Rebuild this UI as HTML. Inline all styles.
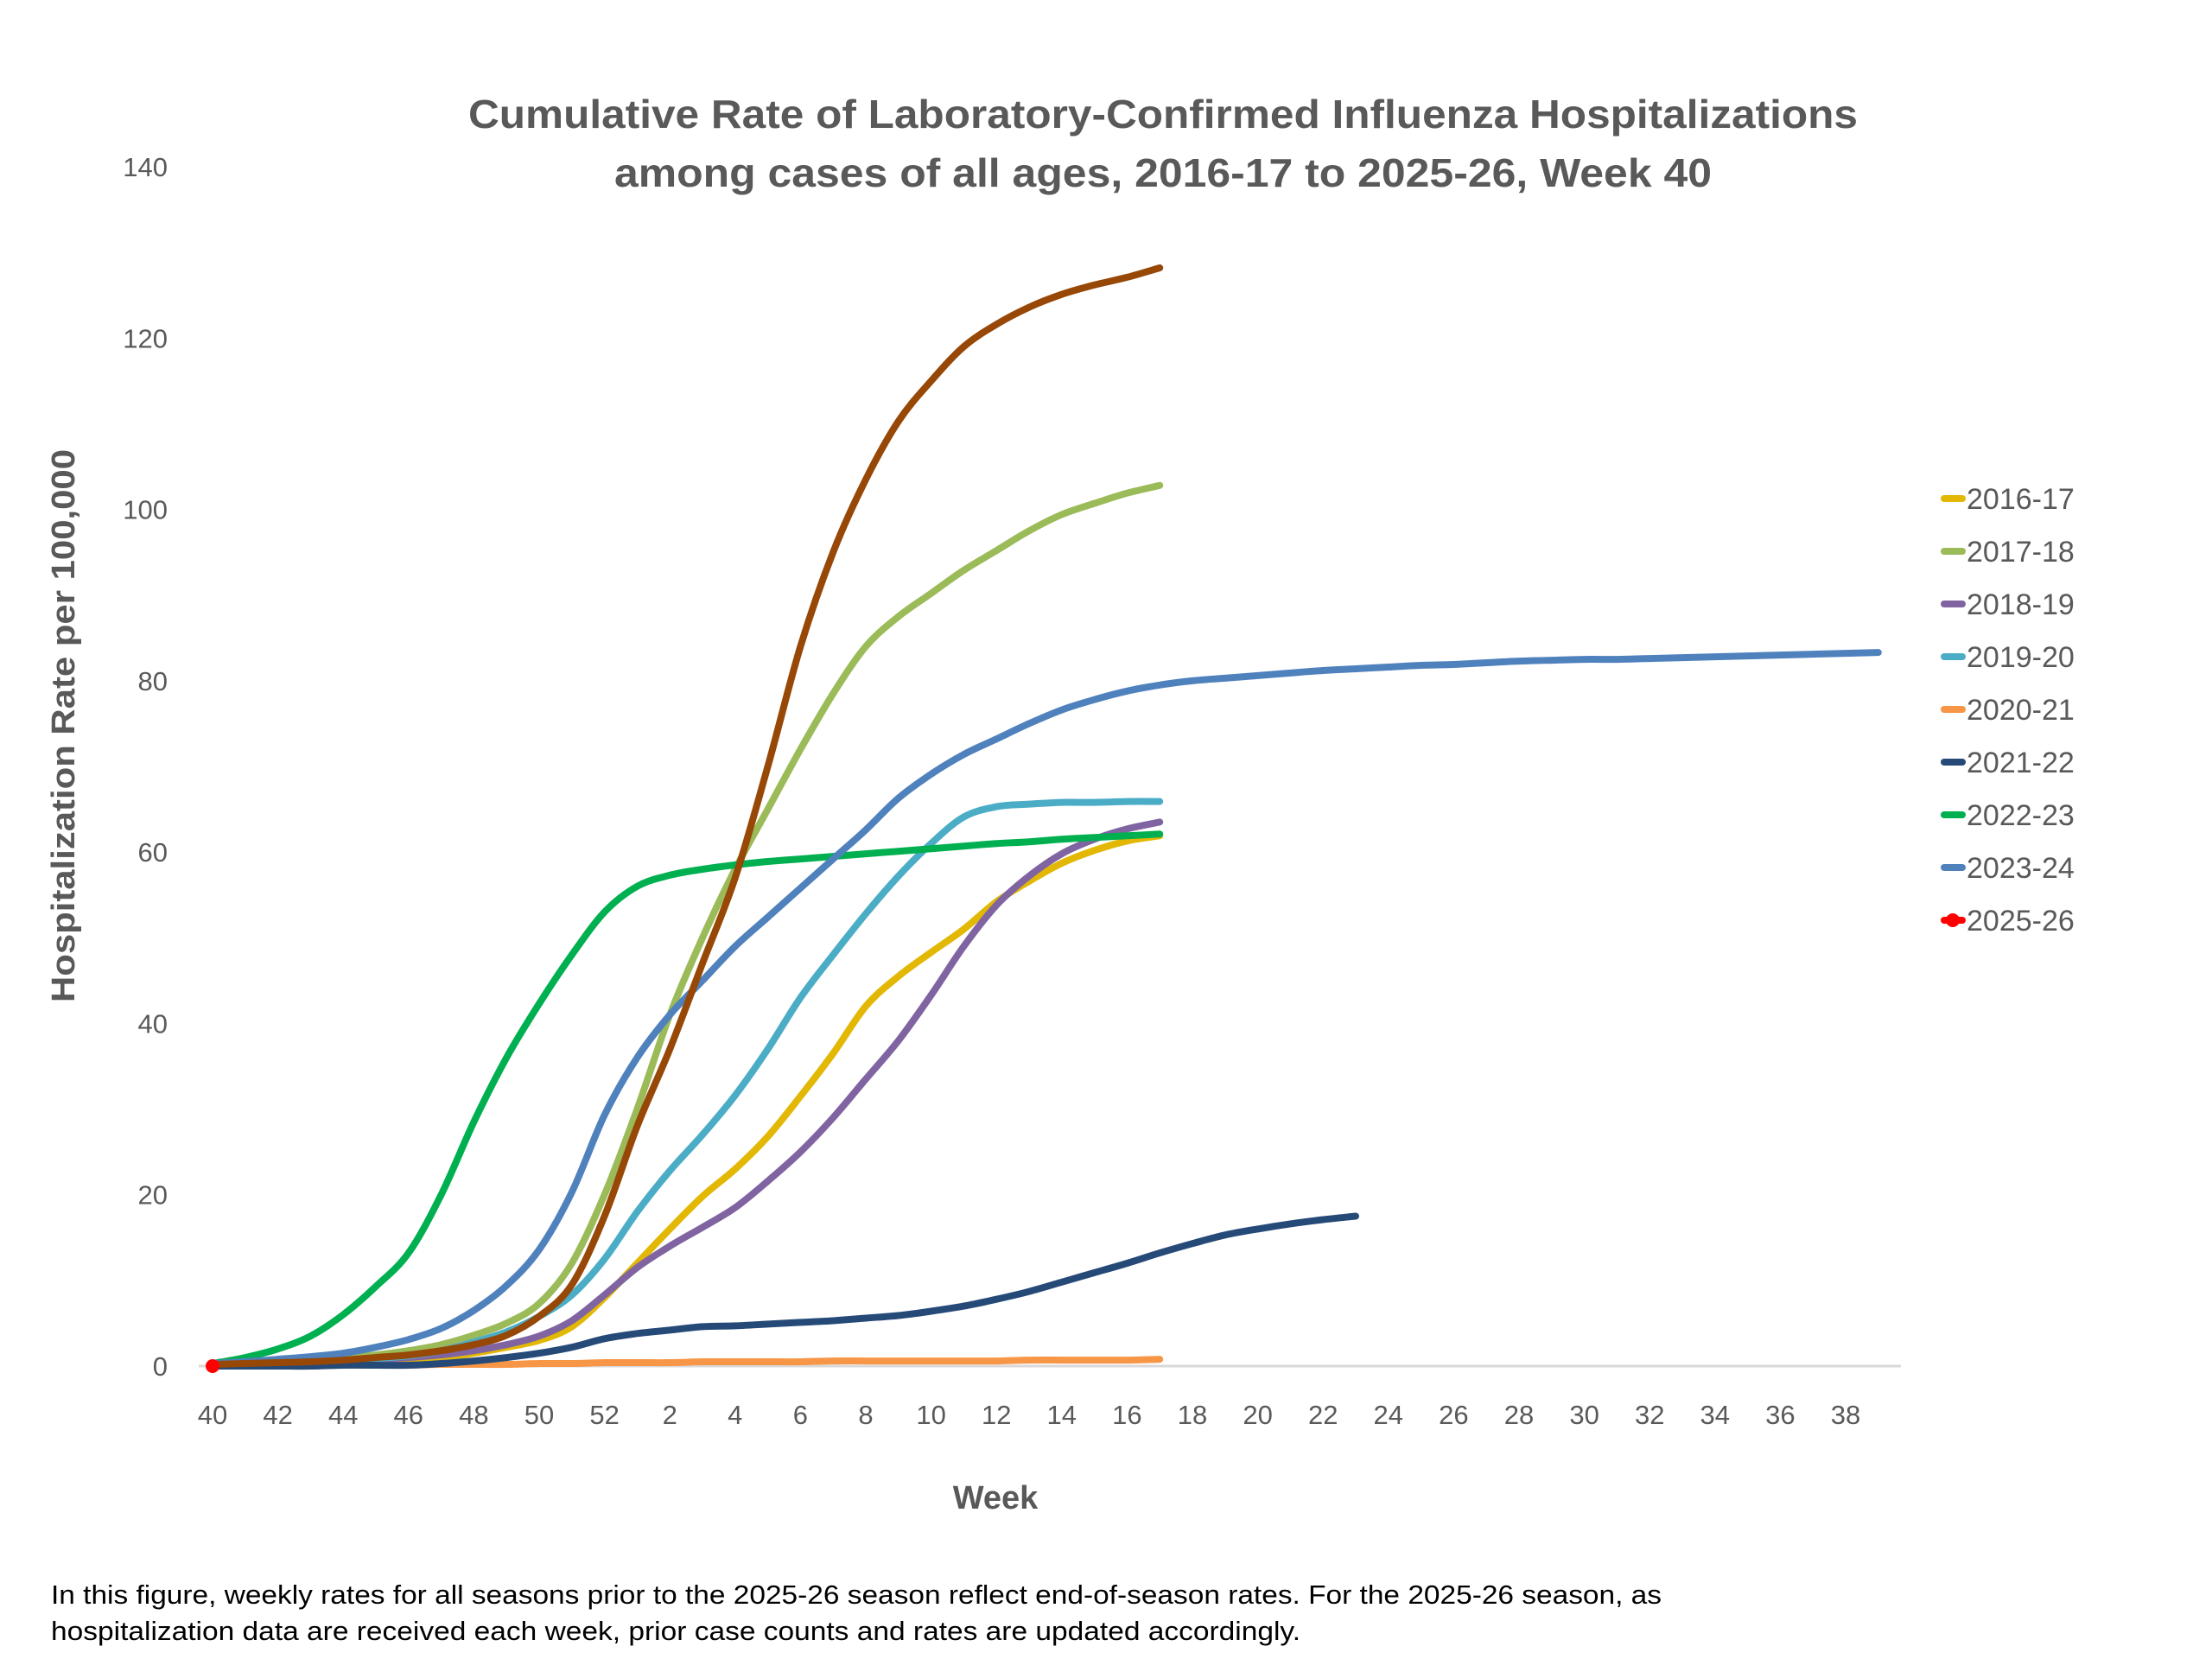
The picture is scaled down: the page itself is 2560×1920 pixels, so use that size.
<!DOCTYPE html>
<html><head><meta charset="utf-8"><style>
html,body{margin:0;padding:0;background:#fff;}
svg{display:block;font-family:"Liberation Sans",sans-serif;}
</style></head><body>
<svg id="chart" width="2560" height="1920" viewBox="0 0 2560 1920" xmlns="http://www.w3.org/2000/svg">
<rect width="2560" height="1920" fill="#fff"/>
<text x="1346" y="148" text-anchor="middle" font-size="46" font-weight="bold" fill="#595959" textLength="1608" lengthAdjust="spacingAndGlyphs">Cumulative Rate of Laboratory-Confirmed Influenza Hospitalizations</text>
<text x="1346" y="216" text-anchor="middle" font-size="46" font-weight="bold" fill="#595959" textLength="1270" lengthAdjust="spacingAndGlyphs">among cases of all ages, 2016-17 to 2025-26, Week 40</text>
<text transform="translate(86,840) rotate(-90)" text-anchor="middle" font-size="38" font-weight="bold" fill="#595959" textLength="640" lengthAdjust="spacingAndGlyphs">Hospitalization Rate per 100,000</text>
<text x="1152" y="1746" text-anchor="middle" font-size="38" font-weight="bold" fill="#595959">Week</text>
<text x="59" y="1856" font-size="31" fill="#000" textLength="1864" lengthAdjust="spacingAndGlyphs">In this figure, weekly rates for all seasons prior to the 2025-26 season reflect end-of-season rates. For the 2025-26 season, as</text>
<text x="59" y="1898" font-size="31" fill="#000" textLength="1446" lengthAdjust="spacingAndGlyphs">hospitalization data are received each week, prior case counts and rates are updated accordingly.</text>
<g id="axes"></g><g id="series"></g><g id="legend"></g>
</svg>
<script>
const xLabels = ["40","42","44","46","48","50","52","2","4","6","8","10","12","14","16","18","20","22","24","26","28","30","32","34","36","38"];
const yTicks = [0,20,40,60,80,100,120,140];
const seasons = ["2016-17","2017-18","2018-19","2019-20","2020-21","2021-22","2022-23","2023-24","2024-25","2025-26"];
const s2016 = [0.1,0.1,0.2,0.3,0.4,0.5,0.7,0.9,1.5,2.2,3,4.6,8,12,16,19.8,23,26.8,31.5,36.5,42,45.5,48.3,51,54.2,56.6,58.7,60.2,61.3,61.9];
const s2017 = [0.2,0.3,0.5,0.7,1,1.3,1.8,2.5,3.6,5,7.3,12,20,30,41,50,58,65,72,78.5,84,87.5,90.2,92.9,95.2,97.5,99.4,100.7,101.9,102.8];
const s2018 = [0.1,0.2,0.3,0.4,0.6,0.8,1,1.3,1.8,2.5,3.5,5.3,8.3,11.5,14,16.2,18.5,21.6,25,29,33.5,38,43.3,49,53.8,57.2,59.8,61.5,62.7,63.5];
const s2019 = [0.2,0.3,0.4,0.5,0.7,0.9,1.2,1.8,2.8,4,5.8,8.3,12.5,18,22.8,27,31.6,37,43,48,52.8,57.2,61,64.1,65.3,65.6,65.8,65.8,65.9,65.9];
const s2020 = [0,0,0,0,0.1,0.1,0.1,0.2,0.2,0.2,0.3,0.3,0.4,0.4,0.4,0.5,0.5,0.5,0.5,0.6,0.6,0.6,0.6,0.6,0.6,0.7,0.7,0.7,0.7,0.8];
const s2021 = [0,0,0,0,0.1,0.1,0.1,0.3,0.6,1,1.5,2.2,3.2,3.8,4.2,4.6,4.7,4.9,5.1,5.3,5.6,5.9,6.4,7,7.8,8.7,9.8,10.9,12,13.2,14.3,15.3,16,16.6,17.1,17.5];
const s2022 = [0.3,1,2,3.5,6,9.3,13.2,20,28.5,36,42.3,48,53,56,57.3,58,58.5,58.9,59.2,59.5,59.8,60.1,60.4,60.7,61,61.2,61.5,61.7,61.9,62.1];
const s2023 = [0.3,0.5,0.8,1.1,1.5,2.2,3.1,4.4,6.5,9.4,13.6,20.3,29.3,36,41,45,49,52.4,55.8,59.2,62.6,66.3,69.1,71.4,73.2,75,76.6,77.8,78.8,79.5,80,80.3,80.6,80.9,81.2,81.4,81.6,81.8,81.9,82.1,82.3,82.4,82.5,82.5,82.6,82.7,82.8,82.9,83,83.1,83.2,83.3];
const s2024 = [0.2,0.3,0.4,0.5,0.7,1,1.3,1.8,2.5,3.6,5.8,9.5,17.5,28,37,47,57,70,84,95,103.5,110.3,115,119,121.6,123.6,125.1,126.2,127.1,128.2];
const s2025 = [0];
const colors = ["#E2B804","#9BBB59","#8064A2","#4BACC6","#F79646","#254A78","#00B050","#4F81BD","#974706","#FF0000"];
const allData = [s2016,s2017,s2018,s2019,s2020,s2021,s2022,s2023,s2024,s2025];

const NS="http://www.w3.org/2000/svg";
const X0=246, DX=37.8, Y0=1581, YS=(1581-193)/140;
function xs(i){return X0+i*DX;}
function ys(v){return Y0-v*YS;}
function mk(tag,attrs,parent){const e=document.createElementNS(NS,tag);for(const k in attrs)e.setAttribute(k,attrs[k]);parent.appendChild(e);return e;}
const axes=document.getElementById('axes'), ser=document.getElementById('series'), leg=document.getElementById('legend');

const ax=mk('line',{x1:230,x2:2200,y1:Y0,y2:Y0,stroke:'#D9D9D9','stroke-width':3},axes);


yTicks.forEach(v=>{
  const t=mk('text',{x:194,y:ys(v)+11,'text-anchor':'end','font-size':31,fill:'#595959'},axes);
  t.textContent=v;
  
  
});
xLabels.forEach((l,k)=>{
  const t=mk('text',{x:xs(k*2),y:1648,'text-anchor':'middle','font-size':31,fill:'#595959'},axes);
  t.textContent=l;
  
  
});

function smooth(pts){
  if(pts.length<2)return '';
  let d='M'+pts[0][0]+','+pts[0][1];
  for(let i=0;i<pts.length-1;i++){
    const p0=pts[Math.max(0,i-1)],p1=pts[i],p2=pts[i+1],p3=pts[Math.min(pts.length-1,i+2)];
    const c1x=p1[0]+(p2[0]-p0[0])/6,c1y=p1[1]+(p2[1]-p0[1])/6;
    const c2x=p2[0]-(p3[0]-p1[0])/6,c2y=p2[1]-(p3[1]-p1[1])/6;
    d+=' C'+c1x.toFixed(1)+','+c1y.toFixed(1)+' '+c2x.toFixed(1)+','+c2y.toFixed(1)+' '+p2[0].toFixed(1)+','+p2[1].toFixed(1);
  }
  return d;
}
allData.forEach((arr,si)=>{
  const pts=arr.map((v,i)=>[xs(i),ys(v)]);
  if(arr.length>1){
    const p=mk('path',{d:smooth(pts),fill:'none',stroke:colors[si],'stroke-width':8,'stroke-linecap':'round','stroke-linejoin':'round'},ser);
    
    
  } else {
    pts.forEach(pt=>{
      const c=mk('circle',{cx:pt[0],cy:pt[1],r:8,fill:colors[si]},ser);
      
      
    });
  }
});
const legendIdx=[0,1,2,3,4,5,6,7,9];
legendIdx.forEach((si,k)=>{
  const y=577+k*61;
  const g=mk('g',{},leg);
  
  
  mk('line',{x1:2250,x2:2271,y1:y,y2:y,stroke:colors[si],'stroke-width':8,'stroke-linecap':'round'},g);
  if(si===9) mk('circle',{cx:2260,cy:y,r:8,fill:colors[si]},g);
  const t=mk('text',{x:2276,y:y+12,'font-size':34,fill:'#595959'},g);
  t.textContent=seasons[si];
});
</script>
</body></html>
